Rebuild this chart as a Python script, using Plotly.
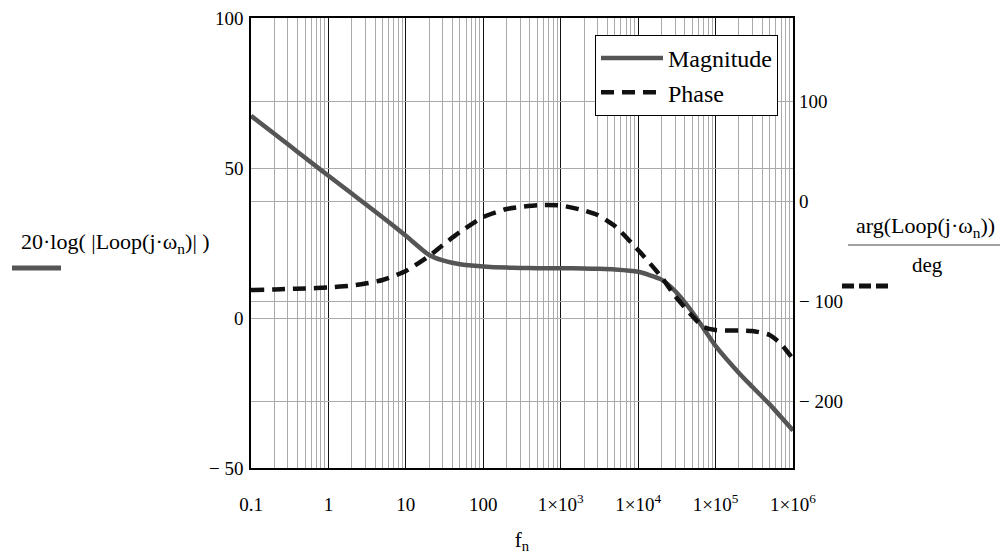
import plotly.graph_objects as go

# ---- data ----
freq = [0.1, 0.2, 0.3, 0.5, 1, 2, 3, 5, 10, 20, 30, 50, 100, 200, 300, 500,
        1000, 2000, 3000, 5000, 1e4, 2e4, 3e4, 5e4, 7e4, 1e5, 2e5, 3e5, 5e5, 7e5, 1e6]
magnitude_db = [67.4, 61.4, 57.9, 53.4, 47.4, 41.5, 38.0, 33.6, 27.4, 21.0, 19.2, 17.9,
                17.2, 16.8, 16.7, 16.6, 16.6, 16.5, 16.4, 16.2, 15.4, 12.8, 9.0, 2.0,
                -3.5, -9.3, -18.3, -23.0, -28.8, -33.0, -37.5]
phase_deg = [-89, -88.5, -88, -87.5, -86.5, -84.5, -82.5, -79, -70, -55, -44, -31,
             -16, -8, -6, -4.2, -4.5, -9.5, -14, -25, -49, -76, -95, -115,
             -126, -129, -129.5, -130, -134, -143, -158]

x_tickvals = [0.1, 1, 10, 100, 1e3, 1e4, 1e5, 1e6]
x_ticktext = ["0.1", "1", "10", "100", "1×10<sup>3</sup>", "1×10<sup>4</sup>",
              "1×10<sup>5</sup>", "1×10<sup>6</sup>"]
y1_tickvals = [-50, 0, 50, 100]
y1_ticktext = ["− 50", "0", "50", "100"]
y2_tickvals = [-200, -100, 0, 100]
y2_ticktext = ["− 200", "− 100", "0", "100"]

FONT = "Liberation Serif"

# plot area in pixels
L, R, T, B = 251, 793, 18, 468
W, H = R - L, B - T


def px(x):
    return (x - L) / W


def py(y):
    return (B - y) / H


fig = go.Figure()
fig.add_trace(go.Scatter(
    x=freq, y=magnitude_db, name="Magnitude", mode="lines",
    line=dict(color="#555555", width=4.5, shape="spline", smoothing=0.6),
    yaxis="y"))
fig.add_trace(go.Scatter(
    x=freq, y=phase_deg, name="Phase", mode="lines",
    line=dict(color="#111111", width=4.5, dash="13px,8px", shape="spline", smoothing=0.6),
    yaxis="y2"))

fig.update_layout(
    width=1001, height=554,
    margin=dict(l=L, r=1001 - R, t=T, b=554 - B, pad=0, autoexpand=False),
    paper_bgcolor="white", plot_bgcolor="white",
    font=dict(family=FONT, size=18, color="black"),
    showlegend=True,
    legend=dict(x=px(778), y=py(35), xanchor="right", yanchor="top",
                bordercolor="black", borderwidth=1, bgcolor="white",
                font=dict(family=FONT, size=24, color="black"),
                itemwidth=62, tracegroupgap=0),
    xaxis=dict(type="log", range=[-1, 6], tickvals=x_tickvals, ticktext=x_ticktext,
               showgrid=True, gridcolor="#111111", gridwidth=1,
               minor=dict(showgrid=True, gridcolor="#aaaaaa", gridwidth=1, dtick="D1"),
               showline=True, linecolor="black", linewidth=1.5, mirror=True,
               ticks="", ticklabelstandoff=18, zeroline=False, automargin=False,
               tickfont=dict(family=FONT, size=19, color="black"),
               title=dict(text="f<sub>n</sub>", font=dict(family=FONT, size=21), standoff=22)),
    yaxis=dict(range=[-50, 100], tickvals=y1_tickvals, ticktext=y1_ticktext,
               showgrid=True, gridcolor="#aaaaaa", gridwidth=1, zeroline=False,
               showline=True, linecolor="black", linewidth=1.5, mirror=True,
               tickfont=dict(family=FONT, size=19, color="black"), automargin=False,
               ticks="", ticklabelstandoff=2),
    yaxis2=dict(range=[-267, 183], tickvals=y2_tickvals, ticktext=y2_ticktext,
                overlaying="y", side="right", anchor="x", automargin=False,
                showgrid=True, gridcolor="#aaaaaa", gridwidth=1, zeroline=False,
                tickfont=dict(family=FONT, size=19, color="black"),
                showline=False, ticks="", ticklabelstandoff=5),
)

# left axis title + line sample
fig.add_annotation(x=px(115), y=py(243), xref="paper", yref="paper", showarrow=False,
                   xanchor="center", yanchor="middle",
                   text="20·log( |Loop(j·ω<sub>n</sub>)| )",
                   font=dict(family=FONT, size=22, color="black"))
fig.add_shape(type="line", xref="paper", yref="paper", x0=px(12), x1=px(61),
              y0=py(268), y1=py(268), line=dict(color="#555555", width=5))

# right axis title (fraction) + dashed sample
fig.add_annotation(x=px(925), y=py(227), xref="paper", yref="paper", showarrow=False,
                   xanchor="center", yanchor="middle",
                   text="arg(Loop(j·ω<sub>n</sub>))",
                   font=dict(family=FONT, size=22, color="black"))
fig.add_shape(type="line", xref="paper", yref="paper", x0=px(848), x1=px(1000),
              y0=py(245), y1=py(245), line=dict(color="#444444", width=1.2))
fig.add_annotation(x=px(927), y=py(265), xref="paper", yref="paper", showarrow=False,
                   xanchor="center", yanchor="middle",
                   text="deg", font=dict(family=FONT, size=21, color="black"))
fig.add_shape(type="line", xref="paper", yref="paper", x0=px(842), x1=px(892),
              y0=py(286), y1=py(286),
              line=dict(color="#111111", width=5, dash="12px,5px"))

fig.write_html("out.html")
